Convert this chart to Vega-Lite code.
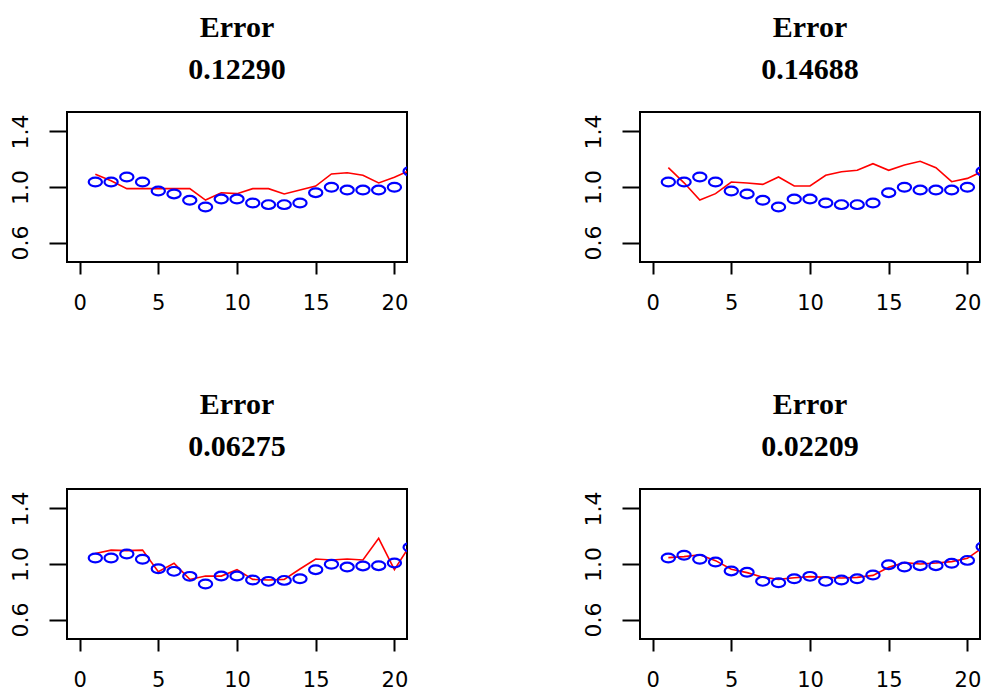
{
  "$schema": "https://vega.github.io/schema/vega-lite/v6.json",
  "background": "white",
  "padding": {"left": 8, "top": 12, "right": 0, "bottom": 0},
  "datasets": {
    "d": [
      {"p": 1, "x": 1, "obs": 1.036, "pred": 1.091},
      {"p": 1, "x": 2, "obs": 1.036, "pred": 1.045},
      {"p": 1, "x": 3, "obs": 1.072, "pred": 0.988},
      {"p": 1, "x": 4, "obs": 1.036, "pred": 0.988},
      {"p": 1, "x": 5, "obs": 0.971, "pred": 0.988},
      {"p": 1, "x": 6, "obs": 0.95, "pred": 0.988},
      {"p": 1, "x": 7, "obs": 0.904, "pred": 0.988},
      {"p": 1, "x": 8, "obs": 0.856, "pred": 0.906},
      {"p": 1, "x": 9, "obs": 0.913, "pred": 0.959},
      {"p": 1, "x": 10, "obs": 0.913, "pred": 0.952},
      {"p": 1, "x": 11, "obs": 0.885, "pred": 0.988},
      {"p": 1, "x": 12, "obs": 0.873, "pred": 0.988},
      {"p": 1, "x": 13, "obs": 0.873, "pred": 0.95},
      {"p": 1, "x": 14, "obs": 0.885, "pred": 0.978},
      {"p": 1, "x": 15, "obs": 0.959, "pred": 1.007},
      {"p": 1, "x": 16, "obs": 0.998, "pred": 1.094},
      {"p": 1, "x": 17, "obs": 0.978, "pred": 1.103},
      {"p": 1, "x": 18, "obs": 0.978, "pred": 1.084},
      {"p": 1, "x": 19, "obs": 0.978, "pred": 1.029},
      {"p": 1, "x": 20, "obs": 0.998, "pred": 1.07},
      {"p": 1, "x": 21, "obs": 1.113, "pred": 1.12},
      {"p": 2, "x": 1, "obs": 1.036, "pred": 1.139},
      {"p": 2, "x": 2, "obs": 1.036, "pred": 1.03},
      {"p": 2, "x": 3, "obs": 1.072, "pred": 0.906},
      {"p": 2, "x": 4, "obs": 1.036, "pred": 0.952},
      {"p": 2, "x": 5, "obs": 0.971, "pred": 1.036},
      {"p": 2, "x": 6, "obs": 0.95, "pred": 1.029},
      {"p": 2, "x": 7, "obs": 0.904, "pred": 1.019},
      {"p": 2, "x": 8, "obs": 0.856, "pred": 1.072},
      {"p": 2, "x": 9, "obs": 0.913, "pred": 1.007},
      {"p": 2, "x": 10, "obs": 0.913, "pred": 1.007},
      {"p": 2, "x": 11, "obs": 0.885, "pred": 1.084},
      {"p": 2, "x": 12, "obs": 0.873, "pred": 1.11},
      {"p": 2, "x": 13, "obs": 0.873, "pred": 1.12},
      {"p": 2, "x": 14, "obs": 0.885, "pred": 1.168},
      {"p": 2, "x": 15, "obs": 0.959, "pred": 1.12},
      {"p": 2, "x": 16, "obs": 0.998, "pred": 1.159},
      {"p": 2, "x": 17, "obs": 0.978, "pred": 1.185},
      {"p": 2, "x": 18, "obs": 0.978, "pred": 1.139},
      {"p": 2, "x": 19, "obs": 0.978, "pred": 1.038},
      {"p": 2, "x": 20, "obs": 0.998, "pred": 1.062},
      {"p": 2, "x": 21, "obs": 1.113, "pred": 1.115},
      {"p": 3, "x": 1, "obs": 1.043, "pred": 1.075},
      {"p": 3, "x": 2, "obs": 1.043, "pred": 1.1},
      {"p": 3, "x": 3, "obs": 1.072, "pred": 1.096},
      {"p": 3, "x": 4, "obs": 1.034, "pred": 1.1},
      {"p": 3, "x": 5, "obs": 0.966, "pred": 0.945},
      {"p": 3, "x": 6, "obs": 0.947, "pred": 1.005},
      {"p": 3, "x": 7, "obs": 0.911, "pred": 0.889},
      {"p": 3, "x": 8, "obs": 0.856, "pred": 0.913},
      {"p": 3, "x": 9, "obs": 0.913, "pred": 0.913},
      {"p": 3, "x": 10, "obs": 0.913, "pred": 0.959},
      {"p": 3, "x": 11, "obs": 0.885, "pred": 0.889},
      {"p": 3, "x": 12, "obs": 0.875, "pred": 0.885},
      {"p": 3, "x": 13, "obs": 0.882, "pred": 0.889},
      {"p": 3, "x": 14, "obs": 0.894, "pred": 0.964},
      {"p": 3, "x": 15, "obs": 0.959, "pred": 1.036},
      {"p": 3, "x": 16, "obs": 0.998, "pred": 1.029},
      {"p": 3, "x": 17, "obs": 0.978, "pred": 1.036},
      {"p": 3, "x": 18, "obs": 0.986, "pred": 1.029},
      {"p": 3, "x": 19, "obs": 0.988, "pred": 1.185},
      {"p": 3, "x": 20, "obs": 1.007, "pred": 0.959},
      {"p": 3, "x": 21, "obs": 1.12, "pred": 1.137},
      {"p": 4, "x": 1, "obs": 1.043, "pred": 1.046},
      {"p": 4, "x": 2, "obs": 1.063, "pred": 1.053},
      {"p": 4, "x": 3, "obs": 1.034, "pred": 1.067},
      {"p": 4, "x": 4, "obs": 1.014, "pred": 1.024},
      {"p": 4, "x": 5, "obs": 0.95, "pred": 0.962},
      {"p": 4, "x": 6, "obs": 0.94, "pred": 0.938},
      {"p": 4, "x": 7, "obs": 0.875, "pred": 0.904},
      {"p": 4, "x": 8, "obs": 0.865, "pred": 0.889},
      {"p": 4, "x": 9, "obs": 0.894, "pred": 0.901},
      {"p": 4, "x": 10, "obs": 0.911, "pred": 0.909},
      {"p": 4, "x": 11, "obs": 0.875, "pred": 0.904},
      {"p": 4, "x": 12, "obs": 0.885, "pred": 0.899},
      {"p": 4, "x": 13, "obs": 0.894, "pred": 0.904},
      {"p": 4, "x": 14, "obs": 0.921, "pred": 0.918},
      {"p": 4, "x": 15, "obs": 0.995, "pred": 0.976},
      {"p": 4, "x": 16, "obs": 0.978, "pred": 1.01},
      {"p": 4, "x": 17, "obs": 0.988, "pred": 1.0},
      {"p": 4, "x": 18, "obs": 0.988, "pred": 1.007},
      {"p": 4, "x": 19, "obs": 1.005, "pred": 1.017},
      {"p": 4, "x": 20, "obs": 1.026, "pred": 1.041},
      {"p": 4, "x": 21, "obs": 1.125, "pred": 1.12}
    ]
  },
  "spacing": 75,
  "vconcat": [
    {
      "spacing": 172,
      "hconcat": [
        {
          "width": 340, "height": 150,
          "title": {"text": ["Error", "0.12290"]},
          "data": {"name": "d"},
          "transform": [{"filter": "datum.p == 1"}],
          "encoding": {
            "x": {"field": "x", "type": "quantitative", "scale": {"domain": [-0.8, 20.8], "nice": false, "zero": false}, "axis": {"values": [0, 5, 10, 15, 20]}}
          },
          "layer": [
            {"mark": {"type": "line", "color": "#FF0000", "strokeWidth": 1.6, "clip": true},
             "encoding": {"y": {"field": "pred", "type": "quantitative", "scale": {"domain": [0.46, 1.54], "nice": false, "zero": false}, "axis": {"values": [0.6, 0.8, 1.0, 1.2, 1.4]}}}},
            {"mark": {"type": "point", "shape": "M-1,0A1,0.66 0 1,1 1,0A1,0.66 0 1,1 -1,0Z", "size": 175, "color": "#0000FF", "filled": false, "strokeWidth": 2.2, "opacity": 1, "clip": true},
             "encoding": {"y": {"field": "obs", "type": "quantitative"}}}
          ]
        },
        {
          "width": 340, "height": 150,
          "title": {"text": ["Error", "0.14688"]},
          "data": {"name": "d"},
          "transform": [{"filter": "datum.p == 2"}],
          "encoding": {
            "x": {"field": "x", "type": "quantitative", "scale": {"domain": [-0.8, 20.8], "nice": false, "zero": false}, "axis": {"values": [0, 5, 10, 15, 20]}}
          },
          "layer": [
            {"mark": {"type": "line", "color": "#FF0000", "strokeWidth": 1.6, "clip": true},
             "encoding": {"y": {"field": "pred", "type": "quantitative", "scale": {"domain": [0.46, 1.54], "nice": false, "zero": false}, "axis": {"values": [0.6, 0.8, 1.0, 1.2, 1.4]}}}},
            {"mark": {"type": "point", "shape": "M-1,0A1,0.66 0 1,1 1,0A1,0.66 0 1,1 -1,0Z", "size": 175, "color": "#0000FF", "filled": false, "strokeWidth": 2.2, "opacity": 1, "clip": true},
             "encoding": {"y": {"field": "obs", "type": "quantitative"}}}
          ]
        }
      ]
    },
    {
      "spacing": 172,
      "hconcat": [
        {
          "width": 340, "height": 150,
          "title": {"text": ["Error", "0.06275"]},
          "data": {"name": "d"},
          "transform": [{"filter": "datum.p == 3"}],
          "encoding": {
            "x": {"field": "x", "type": "quantitative", "scale": {"domain": [-0.8, 20.8], "nice": false, "zero": false}, "axis": {"values": [0, 5, 10, 15, 20]}}
          },
          "layer": [
            {"mark": {"type": "line", "color": "#FF0000", "strokeWidth": 1.6, "clip": true},
             "encoding": {"y": {"field": "pred", "type": "quantitative", "scale": {"domain": [0.46, 1.54], "nice": false, "zero": false}, "axis": {"values": [0.6, 0.8, 1.0, 1.2, 1.4]}}}},
            {"mark": {"type": "point", "shape": "M-1,0A1,0.66 0 1,1 1,0A1,0.66 0 1,1 -1,0Z", "size": 175, "color": "#0000FF", "filled": false, "strokeWidth": 2.2, "opacity": 1, "clip": true},
             "encoding": {"y": {"field": "obs", "type": "quantitative"}}}
          ]
        },
        {
          "width": 340, "height": 150,
          "title": {"text": ["Error", "0.02209"]},
          "data": {"name": "d"},
          "transform": [{"filter": "datum.p == 4"}],
          "encoding": {
            "x": {"field": "x", "type": "quantitative", "scale": {"domain": [-0.8, 20.8], "nice": false, "zero": false}, "axis": {"values": [0, 5, 10, 15, 20]}}
          },
          "layer": [
            {"mark": {"type": "line", "color": "#FF0000", "strokeWidth": 1.6, "clip": true},
             "encoding": {"y": {"field": "pred", "type": "quantitative", "scale": {"domain": [0.46, 1.54], "nice": false, "zero": false}, "axis": {"values": [0.6, 0.8, 1.0, 1.2, 1.4]}}}},
            {"mark": {"type": "point", "shape": "M-1,0A1,0.66 0 1,1 1,0A1,0.66 0 1,1 -1,0Z", "size": 175, "color": "#0000FF", "filled": false, "strokeWidth": 2.2, "opacity": 1, "clip": true},
             "encoding": {"y": {"field": "obs", "type": "quantitative"}}}
          ]
        }
      ]
    }
  ],
  "config": {
    "view": {"stroke": "black", "strokeWidth": 2},
    "axis": {"grid": false, "domain": false, "tickColor": "black", "tickWidth": 2, "labelColor": "black", "labelFont": "DejaVu Sans", "labelFontSize": 22, "title": null, "labelOverlap": false, "labelFlush": false},
    "axisX": {"tickSize": 12, "labelPadding": 18, "labelFontSize": 21},
    "axisY": {"tickSize": 18, "labelPadding": 22, "labelAngle": -90, "labelAlign": "center", "labelBaseline": "alphabetic", "format": ".1f", "labelExpr": "(abs(datum.value - 0.8) < 0.01 || abs(datum.value - 1.2) < 0.01) ? '' : datum.label"},
    "title": {"font": "Liberation Serif", "fontWeight": "bold", "fontSize": 30, "lineHeight": 42, "color": "black", "anchor": "middle", "offset": 27}
  }
}
